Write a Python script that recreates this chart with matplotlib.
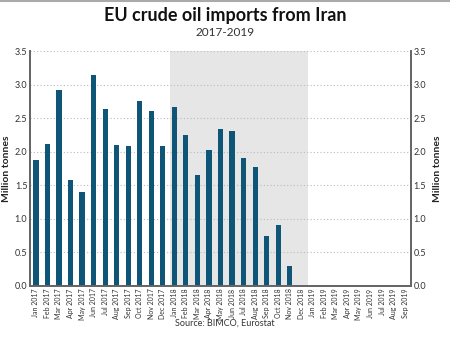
import matplotlib.pyplot as plt
import numpy as np

plt.rcParams['font.family'] = ['Lato', 'DejaVu Sans']

months = ['Jan', 'Feb', 'Mar', 'Apr', 'May', 'Jun',
          'Jul', 'Aug', 'Sep', 'Oct', 'Nov', 'Dec']
labels = [f'{m} {y}' for y in (2017, 2018) for m in months] + \
         [f'{m} 2019' for m in months[:9]]

imports = [1.87, 2.12, 2.92, 1.57, 1.39, 3.15, 2.63, 2.10, 2.08, 2.75, 2.60, 2.08,
           2.67, 2.25, 1.65, 2.03, 2.34, 2.31, 1.91, 1.77, 0.74, 0.90, 0.29]
imports = imports + [0.0] * (len(labels) - len(imports))

bar_color = '#0e5577'
axis_color = '#666666'
text_color = '#333333'

fig = plt.figure(figsize=(4.5, 3.45), dpi=100)
ax = fig.add_axes([0.067, 0.172, 0.846, 0.68])

x = np.arange(len(labels))
ax.axvspan(11.6, 23.55, color='#e6e6e6', zorder=0, lw=0)
ax.bar(x, imports, width=0.45, color=bar_color, zorder=3)

ax.set_xlim(-0.5, len(labels) - 0.5)
ax.set_ylim(0, 3.5)
yticks = np.arange(0, 3.51, 0.5)
ax.set_yticks(yticks)
ax.set_yticklabels([f'{v:.1f}' for v in yticks])
ax.grid(axis='y', color='#bbbbbb', linestyle=(0, (1, 2)), linewidth=0.8, zorder=1)
ax.set_axisbelow(True)

ax.set_xticks(x)
ax.set_xticklabels(labels, rotation=90)

ax2 = ax.twinx()
ax2.set_ylim(0, 3.5)
ax2.set_yticks(yticks)
ax2.set_yticklabels([f'{v:.1f}' for v in yticks])

for a in (ax, ax2):
    a.spines['top'].set_visible(False)
    for side in ('left', 'right', 'bottom'):
        a.spines[side].set_color(axis_color)
        a.spines[side].set_linewidth(1.3)
    a.tick_params(axis='y', length=0, pad=2, labelsize=6.5, colors=text_color)
ax.tick_params(axis='x', length=0, pad=2, labelsize=5, colors=text_color)

ax.set_ylabel('Million tonnes', fontsize=7.5, fontweight='bold', color='#222222', labelpad=3)
ax2.set_ylabel('Million tonnes', fontsize=7.5, fontweight='bold', color='#222222', labelpad=5)

fig.text(0.5, 0.955, 'EU crude oil imports from Iran', ha='center', va='center',
         fontsize=13, fontweight='bold', color='#111111')
fig.text(0.5, 0.905, '2017-2019', ha='center', va='center', fontsize=8.5, color=text_color)
fig.text(0.5, 0.063, 'Source: BIMCO, Eurostat', ha='center', va='center',
         fontsize=6.5, color=text_color)

fig.add_artist(plt.Line2D([0, 1], [0.997, 0.997], color='#aaaaaa', lw=1.5,
                          transform=fig.transFigure))

fig.savefig('out.png', dpi=100)
